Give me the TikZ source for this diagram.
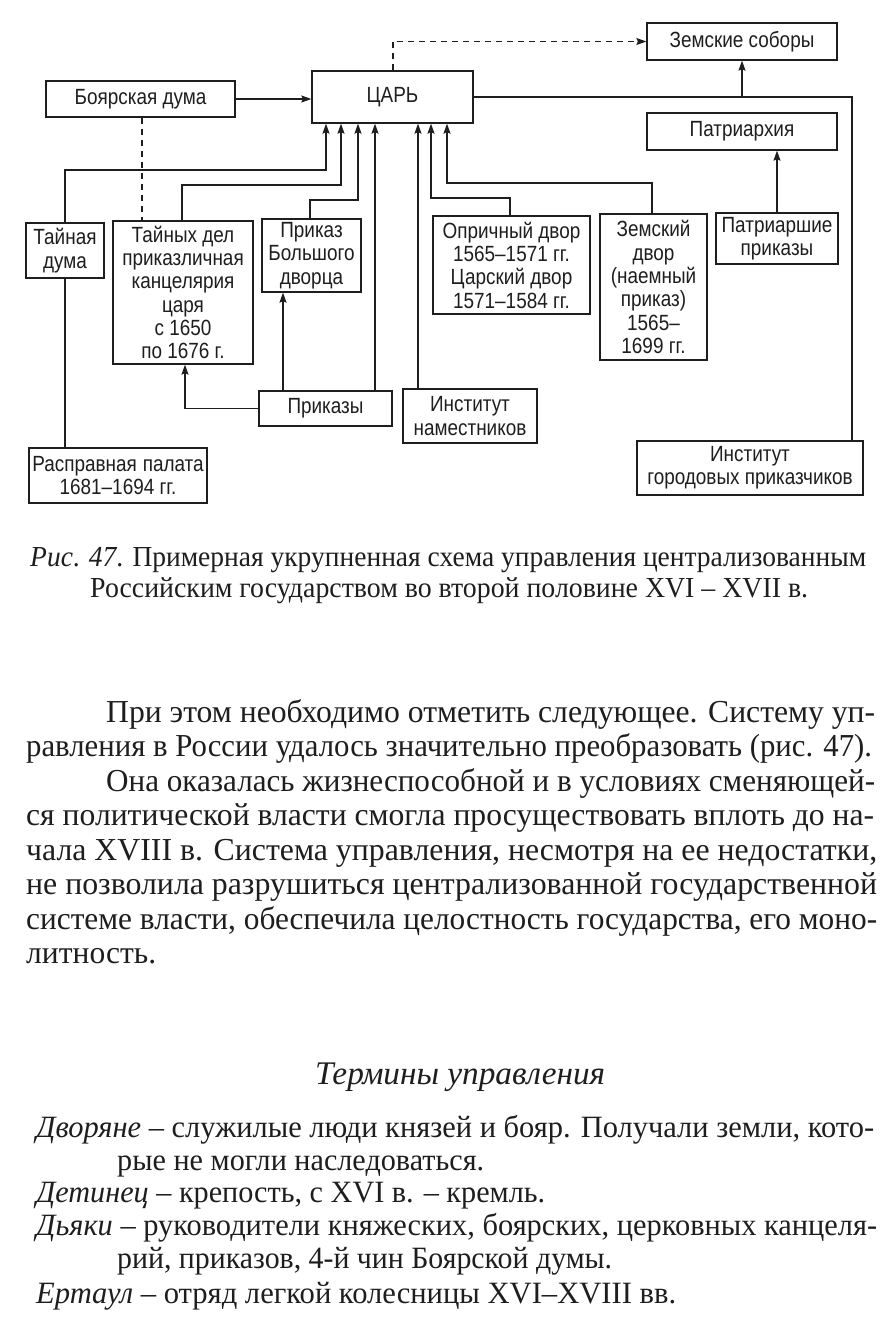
\documentclass[tikz,border=0pt]{standalone}
\usepackage{fontspec}
\usepackage{graphicx}
\setmainfont{Liberation Serif}
\newfontfamily\dfont[FakeStretch=0.86]{Liberation Sans}
\usetikzlibrary{arrows.meta}
\newsavebox\lnbox
\newcommand\fitto[2]{\sbox\lnbox{#2}\pgfmathsetmacro\fitratio{#1/\the\wd\lnbox}\scalebox{\fitratio}[1]{\usebox\lnbox}}
\definecolor{ink}{HTML}{1E1E1E}
\tikzset{
  box/.style={draw=ink, line width=1.3pt, inner sep=0pt, align=center, text=ink,
    font=\dfont\fontsize{22}{23.3}\selectfont},
  conn/.style={draw=ink, line width=1.2pt},
  arr/.style={conn, -{Stealth[length=10pt,width=7pt,inset=1.5pt]}},
  dsh/.style={conn, dash pattern=on 6pt off 5pt},
  body/.style={anchor=base west, inner sep=0pt, text=ink, font=\fontsize{32}{34}\selectfont},
  capt/.style={anchor=base west, inner sep=0pt, text=ink, font=\fontsize{29}{31}\selectfont},
  term/.style={anchor=base west, inner sep=0pt, text=ink, font=\fontsize{31}{33}\selectfont},
}
\begin{document}
\begin{tikzpicture}[x=1pt,y=-1pt]
\fill[white] (0,0) rectangle (880,1328);
\useasboundingbox (0,0) rectangle (880,1328);

% ---- boxes ----
\node[box, minimum width=190pt, minimum height=37pt] (zs) at (742,41.5) {Земские соборы};
\node[box, minimum width=189pt, minimum height=36pt] (bd) at (140.5,99) {Боярская дума};
\node[box, minimum width=161pt, minimum height=52pt] (tsar) at (392.5,97) {ЦАРЬ};
\node[box, minimum width=190pt, minimum height=37pt] (patr) at (742,131.5) {Патриархия};
\node[box, minimum width=122pt, minimum height=51pt] (pp) at (777,238.5) {Патриаршие\\приказы};
\node[box, minimum width=78pt, minimum height=55pt] (td) at (65,250.5) {Тайная\\дума};
\node[box, minimum width=140pt, minimum height=143pt] (tdp) at (183,292.5) {Тайных дел\\приказличная\\канцелярия\\царя\\с 1650\\по 1676 г.};
\node[box, minimum width=99pt, minimum height=73pt] (pbd) at (311.5,255.5) {Приказ\\Большого\\дворца};
\node[box, minimum width=133pt, minimum height=35pt] (prk) at (325.5,408.5) {Приказы};
\node[box, minimum width=134pt, minimum height=54pt] (inst) at (470,416) {Институт\\наместников};
\node[box, minimum width=178pt, minimum height=55pt] (rp) at (118,475.5) {Расправная\hspace{6pt}палата\\1681–1694 гг.};
\node[box, minimum width=157pt, minimum height=98pt] (od) at (511.5,265) {Опричный двор\\1565–1571 гг.\\Царский двор\\1571–1584 гг.};
\node[box, minimum width=107pt, minimum height=146pt] (zd) at (653.5,287) {Земский\\двор\\(наемный\\приказ)\\1565–\\1699 гг.};
\node[box, minimum width=226pt, minimum height=54pt] (igp) at (750,468) {Институт\\городовых приказчиков};

% ---- connectors ----
\draw[arr] (bd.east) -- (tsar.west |- bd.east);
\draw[dsh, -{Stealth[length=10pt,width=7pt,inset=1.5pt]}] (393,0 |- tsar.north) |- (zs.west);
\draw[conn] (tsar.east) -- (852,0 |- tsar.east) -- (852,0 |- igp.north);
\draw[arr] (742,0 |- tsar.east) -- (zs.south);
\draw[arr] (pp.north) -- (patr.south -| pp.north);
\draw[arr] (td.north) |- (326,170) -- (326,0 |- tsar.south);
\draw[conn] (td.south) -- (td.south |- rp.north);
\draw[arr] (182,0 |- tdp.north) |- (341,185) -- (341,0 |- tsar.south);
\draw[arr] (310,0 |- pbd.north) |- (358,200) -- (358,0 |- tsar.south);
\draw[arr] (375,0 |- prk.north) -- (375,0 |- tsar.south);
\draw[arr] (418,0 |- inst.north) -- (418,0 |- tsar.south);
\draw[arr] (510,0 |- od.north) |- (431,198) -- (431,0 |- tsar.south);
\draw[arr] (652,0 |- zd.north) |- (447,183) -- (447,0 |- tsar.south);
\draw[arr] (283,0 |- prk.north) -- (283,0 |- pbd.south);
\draw[arr] (prk.west) -| (185,0 |- tdp.south);
\draw[dsh] (142,0 |- bd.south) -- (142,0 |- tdp.north);

% ---- caption ----
\node[capt] (c1) at (30,566) {\fitto{836}{\textit{Рис}. \textit{47}. Примерная укрупненная схема управления централизованным}};
\node[capt] (c2) at (90,597) {\fitto{718}{Российским государством во второй половине XVI – XVII в.}};

% ---- body text ----
\node[body] (b1) at (106,722) {\fitto{769}{При этом необходимо отметить следующее. Систему уп-}};
\node[body] (b2) at (26,756.5) {\fitto{846}{равления в России удалось значительно преобразовать (рис. 47).}};
\node[body] (b3) at (106,791) {\fitto{769}{Она оказалась жизнеспособной и в условиях сменяющей-}};
\node[body] (b4) at (26,825.5) {\fitto{848}{ся политической власти смогла просуществовать вплоть до на-}};
\node[body] (b5) at (26,860) {\fitto{851}{чала XVIII в. Система управления, несмотря на ее недостатки,}};
\node[body] (b6) at (26,894.5) {\fitto{851}{не позволила разрушиться централизованной государственной}};
\node[body] (b7) at (26,929) {\fitto{851}{системе власти, обеспечила целостность государства, его моно-}};
\node[body] (b8) at (26,963.5) {\fitto{130}{литность.}};

% ---- terms ----
\node[body, font=\itshape\fontsize{33}{34}\selectfont] (h) at (315,1084) {\fitto{290}{Термины управления}};
\node[term] (t1) at (36,1137) {\fitto{838}{\textit{Дворяне} – служилые люди князей и бояр. Получали земли, кото-}};
\node[term] (t2) at (117,1170) {\fitto{367}{рые не могли наследоваться.}};
\node[term] (t3) at (36,1202) {\fitto{509}{\textit{Детинец} – крепость, с XVI в. – кремль.}};
\node[term] (t4) at (36,1235) {\fitto{841}{\textit{Дьяки} – руководители княжеских, боярских, церковных канцеля-}};
\node[term] (t5) at (117,1268) {\fitto{495}{рий, приказов, 4-й чин Боярской думы.}};
\node[term] (t6) at (36,1303) {\fitto{640}{\textit{Ертаул} – отряд легкой колесницы XVI–XVIII вв.}};
\end{tikzpicture}
\end{document}
